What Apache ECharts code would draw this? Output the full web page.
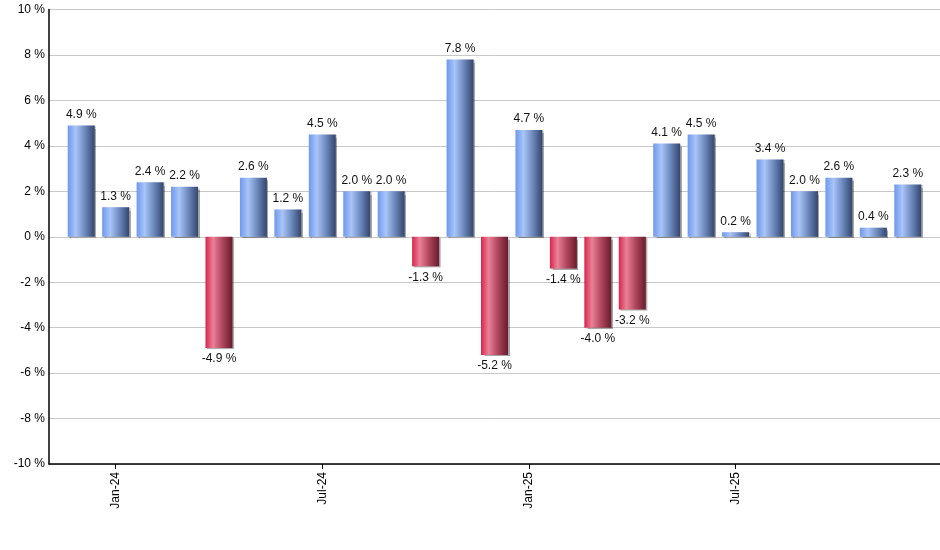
<!DOCTYPE html>
<html>
<head>
<meta charset="utf-8">
<script src="https://cdn.jsdelivr.net/npm/echarts@6/dist/echarts.min.js"></script>
<style>
html, body { margin: 0; padding: 0; background: #fff; }
#chart { width: 940px; height: 550px; }
</style>
</head>
<body>
<div id="chart"></div>
<script>
var months = ['Dec-23', 'Jan-24', 'Feb-24', 'Mar-24', 'Apr-24', 'May-24', 'Jun-24', 'Jul-24', 'Aug-24', 'Sep-24', 'Oct-24', 'Nov-24', 'Dec-24',
	'Jan-25', 'Feb-25', 'Mar-25', 'Apr-25', 'May-25', 'Jun-25', 'Jul-25', 'Aug-25', 'Sep-25', 'Oct-25', 'Nov-25', 'Dec-25'];
var changes = [4.9, 1.3, 2.4, 2.2, -4.9, 2.6, 1.2, 4.5, 2.0, 2.0, -1.3, 7.8, -5.2,
	4.7, -1.4, -4.0, -3.2, 4.1, 4.5, 0.2, 3.4, 2.0, 2.6, 0.4, 2.3];

var myChart = echarts.init(document.getElementById('chart'));

var blue = new echarts.graphic.LinearGradient(0, 0, 1, 0, [
	{ offset: 0, color: '#6e98ee' },
	{ offset: 0.3, color: '#a9c5f8' },
	{ offset: 0.65, color: '#6a86ba' },
	{ offset: 1, color: '#33466c' }
]);
var red = new echarts.graphic.LinearGradient(0, 0, 1, 0, [
	{ offset: 0, color: '#d8244c' },
	{ offset: 0.28, color: '#e98197' },
	{ offset: 0.62, color: '#b0475f' },
	{ offset: 1, color: '#691a2b' }
]);

// only Jan / Jul get a tick and a label
function showLabel(index) {
	return (index - 1) % 6 === 0;
}

var barData = changes.map(function(v) {
	return {
		value: v,
		itemStyle: { color: v < 0 ? red : blue },
		label: { position: v < 0 ? 'bottom' : 'top' }
	};
});

var option = {
	animation: false,
	textStyle: { fontFamily: 'Liberation Sans, Arial, sans-serif' },
	grid: [
		{ left: 64, right: 15, top: 9.5, bottom: 86 },
		{ left: 49, right: 0, top: 9.5, bottom: 86 }
	],
	xAxis: [{
		type: 'category',
		gridIndex: 0,
		data: months,
		boundaryGap: true,
		axisLine: { show: false, onZero: false },
		axisTick: {
			show: true,
			alignWithLabel: true,
			interval: showLabel,
			length: 5,
			lineStyle: { color: '#000' }
		},
		axisLabel: {
			interval: showLabel,
			rotate: 90,
			margin: 8,
			fontSize: 12,
			color: '#000'
		},
		splitLine: { show: false }
	}, {
		type: 'value',
		gridIndex: 1,
		min: 0,
		max: 1,
		axisLine: { show: true, onZero: false, lineStyle: { color: '#000', width: 1.5 } },
		axisTick: { show: false },
		axisLabel: { show: false },
		splitLine: { show: false }
	}],
	yAxis: [{
		type: 'value',
		gridIndex: 0,
		min: -10,
		max: 10,
		interval: 2,
		show: false
	}, {
		type: 'value',
		gridIndex: 1,
		min: -10,
		max: 10,
		interval: 2,
		axisLine: { show: true, lineStyle: { color: '#000', width: 1.5 } },
		axisTick: { show: false },
		axisLabel: {
			formatter: '{value} %',
			fontSize: 12,
			color: '#000',
			margin: 4
		},
		splitLine: { show: true, lineStyle: { color: '#c8c8c8', width: 1 } }
	}],
	series: [{
		type: 'bar',
		xAxisIndex: 0,
		yAxisIndex: 0,
		barWidth: 27,
		data: barData,
		z: 3,
		itemStyle: {
			shadowColor: 'rgba(0, 0, 0, 0.35)',
			shadowBlur: 1,
			shadowOffsetX: 1.5,
			shadowOffsetY: 1
		},
		label: {
			show: true,
			distance: 5,
			fontSize: 12,
			color: '#111',
			formatter: function(p) {
				return p.value.toFixed(1) + ' %';
			}
		}
	}]
};

myChart.setOption(option);
</script>
</body>
</html>
